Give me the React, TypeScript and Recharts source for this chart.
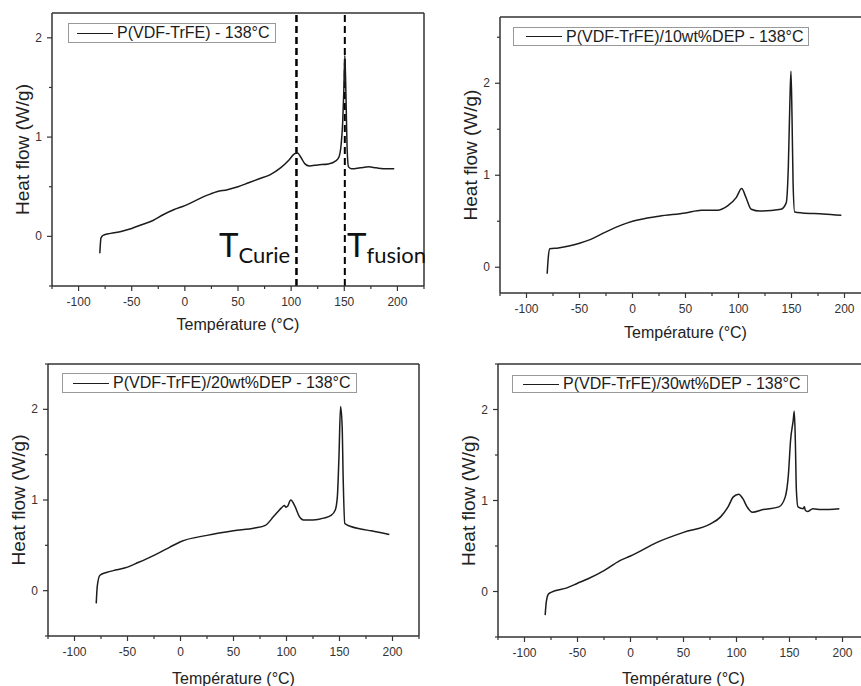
import { Line, LineChart, ReferenceLine, XAxis, YAxis } from 'recharts'

// temperature (°C) and heat flow (W/g)
const t1 = [-80, -79.5, -79, -77, -70, -60, -50, -40, -30, -20, -10, 0, 10, 20, 30, 40, 50, 60, 70, 80, 90, 98, 103, 106, 109, 113, 117, 125, 135, 142, 145, 147, 148.5, 149.5, 150.5, 151.2, 152, 152.8, 154, 157, 165, 173, 180, 190, 197]
const hf1 = [-0.17, -0.08, -0.02, 0.01, 0.03, 0.05, 0.08, 0.12, 0.16, 0.22, 0.27, 0.31, 0.36, 0.41, 0.45, 0.47, 0.5, 0.54, 0.58, 0.62, 0.69, 0.77, 0.83, 0.84, 0.8, 0.73, 0.71, 0.72, 0.73, 0.76, 0.8, 0.92, 1.15, 1.45, 1.82, 1.6, 1.2, 0.85, 0.7, 0.68, 0.69, 0.7, 0.69, 0.68, 0.68]

const t2 = [-80.5, -79.5, -78, -70, -60, -50, -40, -25, -10, 0, 25, 50, 65, 80, 90, 98, 103, 107, 112, 120, 140, 145, 147, 148.5, 149.5, 150.5, 151.5, 153, 160, 180, 197]
const hf2 = [-0.07, 0.1, 0.2, 0.21, 0.23, 0.26, 0.3, 0.385, 0.46, 0.5, 0.555, 0.59, 0.62, 0.62, 0.67, 0.76, 0.855, 0.76, 0.63, 0.61, 0.63, 0.7, 1.09, 1.81, 2.13, 1.63, 0.91, 0.6, 0.59, 0.58, 0.565]

const t3 = [-79.5, -78.5, -76, -70, -60, -50, -40, -25, -10, 0, 25, 50, 70, 80, 88, 95, 98, 99.5, 101, 104, 108, 112, 116, 125, 135, 142, 146, 148, 149.5, 151, 152.5, 153.5, 155, 160, 170, 180, 197]
const hf3 = [-0.14, 0.05, 0.17, 0.2, 0.23, 0.26, 0.31, 0.39, 0.48, 0.54, 0.61, 0.66, 0.69, 0.72, 0.82, 0.91, 0.94, 0.92, 0.93, 1.0, 0.93, 0.82, 0.78, 0.78, 0.8, 0.83, 0.89, 1.04, 1.48, 2.03, 1.81, 1.22, 0.74, 0.71, 0.68, 0.66, 0.62]

const t4 = [-80.5, -79.5, -77.5, -75, -60, -50, -40, -25, -10, 0, 25, 50, 75, 85, 92, 97, 102, 106, 110, 115, 125, 140, 146, 149, 151, 153.5, 154.5, 155.5, 156.5, 158, 163, 164, 165, 167, 172, 180, 197]
const hf4 = [-0.26, -0.12, -0.03, -0.01, 0.04, 0.09, 0.14, 0.23, 0.34, 0.39, 0.54, 0.65, 0.74, 0.82, 0.93, 1.04, 1.07, 1.02, 0.93, 0.87, 0.9, 0.93, 1.04, 1.29, 1.66, 1.88, 1.98, 1.66, 1.11, 0.93, 0.91, 0.93, 0.89, 0.88, 0.91, 0.9, 0.91]

const labels = [
  'P(VDF-TrFE) - 138°C',
  'P(VDF-TrFE)/10wt%DEP - 138°C',
  'P(VDF-TrFE)/20wt%DEP - 138°C',
  'P(VDF-TrFE)/30wt%DEP - 138°C',
]

const xDomain = [-125, 225]
const xTicks = [-125, -100, -75, -50, -25, 0, 25, 50, 75, 100, 125, 150, 175, 200, 225]
const yTicksA = [-0.5, 0, 0.5, 1, 1.5, 2]
const yTicksB = [0, 0.5, 1, 1.5, 2, 2.5]
const yTicksC = [-0.5, 0, 0.5, 1, 1.5, 2, 2.5]

const tCurie = 105
const tFusion = 150.5

const AXIS = '#333'
const FONT = '"Liberation Sans", Arial, sans-serif'

function XTick({ x, y, payload }: any) {
  const v = payload.value
  const major = v % 50 === 0 && Math.abs(v) <= 200
  return (
    <g>
      <line x1={x} y1={y} x2={x} y2={y + (major ? 5 : 3)} stroke={AXIS} strokeWidth={1.2} />
      {major && (
        <text x={x} y={y + 20} textAnchor="middle" fontSize={12} fill="#333" fontFamily={FONT}>
          {v}
        </text>
      )}
    </g>
  )
}

function YTick({ x, y, payload }: any) {
  const v = payload.value
  const major = Number.isInteger(v)
  return (
    <g>
      <line x1={x - (major ? 5 : 3)} y1={y} x2={x} y2={y} stroke={AXIS} strokeWidth={1.2} />
      {major && (
        <text x={x - 10} y={y + 4} textAnchor="end" fontSize={12} fill="#333" fontFamily={FONT}>
          {v}
        </text>
      )}
    </g>
  )
}

type PanelProps = {
  t: number[]
  hf: number[]
  label: string
  yDomain: number[]
  yTicks: number[]
  plot: { x: number; y: number; w: number; h: number }
  legend: { x: number; y: number; w: number; h: number; gap: number }
  titleY: number
  markers?: boolean
}

function Panel({ t, hf, label, yDomain, yTicks, plot, legend, titleY, markers }: PanelProps) {
  const data = t.map((v, i) => ({ t: v, hf: hf[i] }))
  const padL = 60
  const padT = 10
  const padR = 10
  const padB = 50
  return (
    <>
      <div style={{ position: 'absolute', left: plot.x - padL, top: plot.y - padT }}>
        <LineChart
          width={plot.w + padL + padR}
          height={plot.h + padT + padB}
          data={data}
          margin={{ top: padT, right: padR, left: 0, bottom: 0 }}
        >
          <XAxis
            dataKey="t"
            type="number"
            domain={xDomain}
            ticks={xTicks}
            interval={0}
            allowDataOverflow
            height={padB}
            tickSize={0}
            tickMargin={0}
            tickLine={false}
            tick={XTick}
            axisLine={{ stroke: AXIS, strokeWidth: 1.5 }}
          />
          <YAxis
            type="number"
            domain={yDomain}
            ticks={yTicks}
            interval={0}
            allowDataOverflow
            width={padL}
            tickSize={0}
            tickMargin={0}
            tickLine={false}
            tick={YTick}
            axisLine={{ stroke: AXIS, strokeWidth: 1.5 }}
          />
          <ReferenceLine y={yDomain[1]} stroke={AXIS} strokeWidth={1.5} />
          <ReferenceLine x={xDomain[1]} stroke={AXIS} strokeWidth={1.5} />
          {markers && <ReferenceLine x={tCurie} stroke="#000" strokeWidth={2.5} strokeDasharray="7 4" />}
          {markers && <ReferenceLine x={tFusion} stroke="#000" strokeWidth={2} strokeDasharray="7 4" />}
          <Line
            dataKey="hf"
            type="monotone"
            dot={false}
            stroke="#1c1c1c"
            strokeWidth={1.5}
            isAnimationActive={false}
          />
        </LineChart>
      </div>
      <div
        style={{
          position: 'absolute',
          left: legend.x,
          top: legend.y,
          width: legend.w,
          height: legend.h,
          boxSizing: 'border-box',
          border: '1.5px solid #999',
          background: '#fff',
          display: 'flex',
          alignItems: 'center',
          fontFamily: FONT,
          fontSize: 16,
          color: '#1c1c1c',
          whiteSpace: 'nowrap',
        }}
      >
        <div style={{ width: 36, height: 0, borderTop: '1.5px solid #1c1c1c', marginLeft: legend.gap, marginRight: 4 }} />
        <span>{label}</span>
      </div>
      <svg
        width={861}
        height={686}
        style={{ position: 'absolute', left: 0, top: 0, pointerEvents: 'none', overflow: 'visible' }}
      >
        <text
          x={plot.x - 30}
          y={plot.y + plot.h / 2}
          transform={`rotate(-90 ${plot.x - 30} ${plot.y + plot.h / 2})`}
          textAnchor="middle"
          dominantBaseline="central"
          fontSize={19}
          fill="#222"
          fontFamily={FONT}
        >
          Heat flow (W/g)
        </text>
        <text
          x={plot.x + plot.w / 2}
          y={titleY}
          textAnchor="middle"
          dominantBaseline="central"
          fontSize={16}
          fill="#222"
          fontFamily={FONT}
        >
          Température (°C)
        </text>
      </svg>
    </>
  )
}

export default function App() {
  return (
    <div
      style={{
        position: 'fixed',
        left: 0,
        top: 0,
        width: 861,
        height: 686,
        overflow: 'hidden',
        background: '#fff',
      }}
    >
      <Panel
        t={t1}
        hf={hf1}
        label={labels[0]}
        yDomain={[-0.5, 2.25]}
        yTicks={yTicksA}
        plot={{ x: 52, y: 13, w: 372, h: 273 }}
        legend={{ x: 68, y: 23, w: 208, h: 20, gap: 8 }}
        titleY={324}
        markers
      />
      <Panel
        t={t2}
        hf={hf2}
        label={labels[1]}
        yDomain={[-0.28, 2.72]}
        yTicks={yTicksB}
        plot={{ x: 500, y: 17, w: 371, h: 276 }}
        legend={{ x: 513, y: 27, w: 296, h: 19, gap: 12 }}
        titleY={332}
      />
      <Panel
        t={t3}
        hf={hf3}
        label={labels[2]}
        yDomain={[-0.5, 2.5]}
        yTicks={yTicksC}
        plot={{ x: 48, y: 364, w: 371, h: 272 }}
        legend={{ x: 62, y: 373, w: 295, h: 20, gap: 10 }}
        titleY={678}
      />
      <Panel
        t={t4}
        hf={hf4}
        label={labels[3]}
        yDomain={[-0.5, 2.5]}
        yTicks={yTicksC}
        plot={{ x: 498, y: 364, w: 371, h: 273 }}
        legend={{ x: 512, y: 375, w: 296, h: 18, gap: 10 }}
        titleY={678}
      />
      <svg
        width={861}
        height={686}
        style={{ position: 'absolute', left: 0, top: 0, pointerEvents: 'none' }}
        fontFamily='Lato, "Open Sans", sans-serif'
        fill="#111"
      >
        <text x={219} y={257} fontSize={33}>
          T
          <tspan fontSize={22} dy={6}>Curie</tspan>
        </text>
        <text x={347} y={257} fontSize={33}>
          T
          <tspan fontSize={22} dy={6}>fusion</tspan>
        </text>
      </svg>
    </div>
  )
}
